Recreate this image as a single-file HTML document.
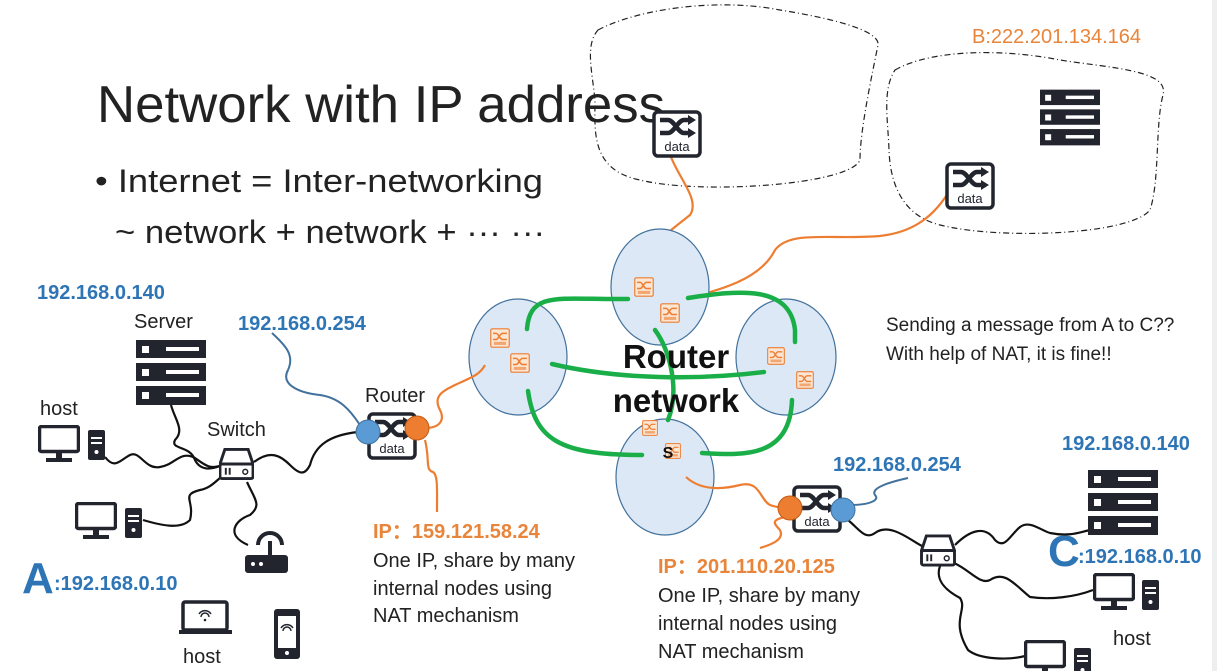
<!DOCTYPE html>
<html><head><meta charset="utf-8"><style>
html,body{margin:0;padding:0;background:#fff;}
svg{display:block;}
text{font-family:"Liberation Sans",sans-serif;}
.b{fill:#2e75b6;font-weight:bold;font-size:20px;}
.o{fill:#e8853a;font-weight:bold;font-size:20px;}
.t{fill:#222;font-size:20px;}
.w{fill:none;stroke:#111;stroke-width:2.2;}
.ow{fill:none;stroke:#ed7d31;stroke-width:2.2;}
.bw{fill:none;stroke:#41719c;stroke-width:2;}
.g{fill:none;stroke:#1aae48;stroke-width:4.5;stroke-linecap:round;}
.el{fill:#dce8f5;stroke:#41719c;stroke-width:1.2;}
</style></head><body>
<svg width="1217" height="671" viewBox="0 0 1217 671" xmlns="http://www.w3.org/2000/svg">
<defs>
<symbol id="srv" viewBox="0 0 70 65">
<rect x="0" y="0" width="70" height="18" fill="#22252e"/><rect x="0" y="23" width="70" height="18" fill="#22252e"/><rect x="0" y="46" width="70" height="19" fill="#22252e"/>
<rect x="6" y="6" width="7" height="7" fill="#fff"/><rect x="30" y="7" width="33" height="4" fill="#fff"/>
<rect x="6" y="29" width="7" height="7" fill="#fff"/><rect x="30" y="30" width="33" height="4" fill="#fff"/>
<rect x="6" y="52" width="7" height="7" fill="#fff"/><rect x="30" y="53" width="33" height="4" fill="#fff"/>
</symbol>
<symbol id="mon" viewBox="0 0 42 37">
<rect x="1.5" y="1.5" width="39" height="25" rx="2" fill="#fff" stroke="#22252e" stroke-width="3.5"/>
<rect x="18" y="27" width="6" height="6" fill="#22252e"/><rect x="8" y="33" width="26" height="4" fill="#22252e"/>
</symbol>
<symbol id="tow" viewBox="0 0 17 30">
<rect x="0" y="0" width="17" height="30" rx="2" fill="#22252e"/><rect x="3" y="7" width="11" height="2" fill="#fff"/><rect x="3" y="12" width="11" height="2" fill="#fff"/><circle cx="8.5" cy="22" r="2" fill="#fff"/>
</symbol>
<symbol id="rt" viewBox="0 0 50 48">
<rect x="2" y="2" width="46" height="44" rx="4" fill="#fff" stroke="#22252e" stroke-width="3.5"/>
<path d="M8 10 H16 C22 10 26 23 32 23 H40 M8 23 H16 C22 23 26 10 32 10 H40" fill="none" stroke="#22252e" stroke-width="4.5"/>
<path d="M36 5 L44 10 L36 15 Z M36 18 L44 23 L36 28 Z" fill="#22252e"/>
<text x="25" y="41" font-size="13" text-anchor="middle" fill="#22252e" font-family="Liberation Mono, monospace">data</text>
</symbol>
<symbol id="ort" viewBox="0 0 26 26">
<rect x="1" y="1" width="24" height="24" rx="2" fill="#fbe5d3" stroke="#ed7d31" stroke-width="1.5"/>
<path d="M4 7 H8 C11 7 13 15 16 15 H22 M4 15 H8 C11 15 13 7 16 7 H22" fill="none" stroke="#ed7d31" stroke-width="2"/>
<rect x="5" y="18" width="16" height="4" fill="#ed7d31" opacity="0.6"/>
</symbol>
<symbol id="sw" viewBox="0 0 36 34">
<path d="M6 2 H30 L35 17 H1 Z" fill="#fff" stroke="#22252e" stroke-width="3"/>
<rect x="1" y="17" width="34" height="15" rx="2" fill="#fff" stroke="#22252e" stroke-width="3"/>
<rect x="6" y="21" width="2" height="7" fill="#22252e"/><rect x="10" y="21" width="2" height="7" fill="#22252e"/><circle cx="27" cy="25" r="2.5" fill="none" stroke="#22252e" stroke-width="1.5"/>
</symbol>
</defs>

<!-- title -->
<text x="97" y="122" font-size="52" fill="#222" textLength="568" lengthAdjust="spacingAndGlyphs">Network with IP address</text>
<text x="95" y="192" font-size="32" fill="#222" textLength="448" lengthAdjust="spacingAndGlyphs">• Internet = Inter-networking</text>
<text x="115" y="243" font-size="32" fill="#222" textLength="430" lengthAdjust="spacingAndGlyphs">~ network + network + ··· ···</text>

<!-- clouds -->
<path d="M598 30 C640 8 720 -2 780 10 C830 18 880 30 878 45 C872 75 860 130 860 160 C850 185 700 195 640 180 C590 170 595 130 595 100 C592 70 585 45 598 30 Z" fill="none" stroke="#222" stroke-width="1.2" stroke-dasharray="6,3,1,3"/>
<path d="M895 70 C930 50 1000 48 1060 60 C1110 68 1170 70 1163 95 C1155 125 1160 180 1150 210 C1130 235 1000 240 940 225 C900 215 890 180 889 150 C888 120 882 90 895 70 Z" fill="none" stroke="#222" stroke-width="1.2" stroke-dasharray="6,3,1,3"/>
<text x="972" y="43" class="o" style="font-weight:normal">B:222.201.134.164</text>
<use href="#srv" x="1040" y="85" width="60" height="65"/>

<!-- orange links to clouds -->
<path class="ow" d="M671 157 C680 180 700 200 690 215 C665 235 655 240 658 260"/>
<path class="ow" d="M680 300 C720 290 760 280 775 250 C790 230 830 240 880 236 C915 232 935 215 950 190"/>
<use href="#rt" x="652" y="110" width="50" height="48"/>
<use href="#rt" x="945" y="162" width="50" height="48"/>

<!-- ellipses -->
<ellipse class="el" cx="660" cy="287" rx="49" ry="58"/>
<ellipse class="el" cx="518" cy="357" rx="49" ry="58"/>
<ellipse class="el" cx="786" cy="357" rx="50" ry="58"/>
<ellipse class="el" cx="665" cy="477" rx="49" ry="58"/>
<use href="#ort" x="634" y="277" width="20" height="20"/>
<use href="#ort" x="660" y="303" width="20" height="20"/>
<use href="#ort" x="490" y="328" width="20" height="20"/>
<use href="#ort" x="510" y="353" width="20" height="20"/>
<use href="#ort" x="767" y="347" width="18" height="18"/>
<use href="#ort" x="796" y="371" width="18" height="18"/>
<use href="#ort" x="642" y="420" width="16" height="16"/>
<use href="#ort" x="665" y="443" width="16" height="16"/>

<!-- green -->
<path class="g" d="M527 329 C530 290 560 300 628 299"/>
<path class="g" d="M688 298 C740 290 790 285 795 330 L795 342"/>
<path class="g" d="M552 364 C620 380 700 380 764 372"/>
<path class="g" d="M655 330 C670 350 680 390 668 420"/>
<path class="g" d="M528 391 C535 440 560 455 642 455"/>
<path class="g" d="M702 453 C740 455 790 460 792 400"/>

<!-- router network text -->
<text x="676" y="368" font-size="33" font-weight="bold" fill="#111" text-anchor="middle">Router</text>
<text x="676" y="412" font-size="33" font-weight="bold" fill="#111" text-anchor="middle">network</text>
<text x="668" y="458" font-size="16" font-weight="bold" fill="#111" text-anchor="middle">S</text>

<!-- left network wires -->
<path class="w" d="M105 457 C115 470 120 460 130 455 C140 450 145 470 160 467 C175 465 180 450 195 458 C205 465 210 470 222 465"/>
<path class="w" d="M171 405 C175 420 185 430 175 440 C170 450 190 445 195 460 C200 470 210 470 220 466"/>
<path class="w" d="M143 520 C160 525 180 530 190 520 C195 500 180 495 200 490 C210 488 215 482 220 478"/>
<path class="w" d="M247 482 C255 500 262 505 250 515 C235 520 225 535 248 545"/>
<path class="w" d="M254 462 C270 450 280 455 290 465 C300 475 305 475 310 465 C315 445 330 435 358 432"/>
<path class="bw" d="M272 333 C285 345 295 355 288 370 C280 385 300 393 320 395 C340 398 350 410 360 425"/>
<path class="ow" d="M425 428 C440 428 445 420 440 410 C432 395 445 390 455 385 C470 378 480 375 485 365"/>
<path class="ow" d="M425 440 C430 460 425 470 433 472 C438 475 437 490 437 512"/>

<use href="#srv" x="136" y="340" width="70" height="65"/>
<use href="#mon" x="38" y="425" width="42" height="37"/>
<use href="#tow" x="88" y="430" width="17" height="30"/>
<use href="#mon" x="75" y="502" width="42" height="37"/>
<use href="#tow" x="125" y="508" width="17" height="30"/>
<use href="#sw" x="219" y="447" width="35" height="34"/>
<!-- wifi router -->
<rect x="245" y="555" width="43" height="18" rx="3" fill="#22252e"/>
<circle cx="253" cy="564" r="2" fill="#fff"/><circle cx="261" cy="564" r="2" fill="#fff"/>
<rect x="268" y="541" width="4" height="15" fill="#22252e"/>
<path d="M258 545 A12 12 0 0 1 282 545" fill="none" stroke="#22252e" stroke-width="4"/>
<!-- laptop -->
<rect x="183" y="602" width="44" height="28" rx="2" fill="#fff" stroke="#22252e" stroke-width="3.5"/>
<rect x="179" y="630" width="53" height="4" fill="#22252e"/>
<path d="M199 614 A7 7 0 0 1 211 614 M201 617 A4 4 0 0 1 209 617" fill="none" stroke="#22252e" stroke-width="1.5"/><circle cx="205" cy="620" r="1.3" fill="#22252e"/>
<!-- phone -->
<rect x="274" y="609" width="26" height="50" rx="3" fill="#22252e"/><rect x="278" y="616" width="18" height="32" fill="#fff"/><circle cx="287" cy="653" r="2" fill="#fff"/>
<path d="M281 628 A7 7 0 0 1 293 628 M283 631 A4 4 0 0 1 291 631" fill="none" stroke="#22252e" stroke-width="1.5"/>

<use href="#rt" x="367" y="412" width="50" height="48"/>
<circle cx="368" cy="432" r="12" fill="#5b9bd5" stroke="#41719c" stroke-width="1"/>
<circle cx="417" cy="428" r="12" fill="#ed7d31" stroke="#c55a11" stroke-width="1"/>

<text x="37" y="299" class="b">192.168.0.140</text>
<text x="134" y="328" class="t">Server</text>
<text x="238" y="330" class="b">192.168.0.254</text>
<text x="40" y="415" class="t">host</text>
<text x="207" y="436" class="t">Switch</text>
<text x="365" y="402" class="t">Router</text>
<text x="22" y="593" font-size="44" fill="#2e75b6" font-weight="bold">A</text>
<text x="54" y="590" class="b">:192.168.0.10</text>
<text x="183" y="663" class="t">host</text>
<text x="373" y="538" class="o">IP：159.121.58.24</text>
<text x="373" y="567" class="t">One IP, share by many</text>
<text x="373" y="595" class="t">internal nodes using</text>
<text x="373" y="622" class="t">NAT mechanism</text>

<!-- right network wires -->
<path class="ow" d="M686 477 C700 490 720 490 740 485 C760 480 760 500 770 505 C778 508 785 508 790 508"/>
<path class="ow" d="M790 515 C775 520 770 520 780 530 C785 540 770 545 760 548"/>
<path class="bw" d="M850 505 C870 505 880 500 875 495 C870 488 890 482 908 478"/>
<path class="w" d="M848 520 C860 530 865 540 875 533 C890 522 910 540 922 546"/>
<path class="w" d="M955 545 C970 530 985 525 995 540 C1005 550 1010 535 1020 527 C1030 520 1040 530 1050 533 C1070 537 1080 532 1090 530"/>
<path class="w" d="M954 563 C970 570 980 585 990 580 C1005 570 1015 585 1030 597 C1050 600 1075 597 1093 590"/>
<path class="w" d="M940 566 C935 580 945 590 960 598 C968 610 950 620 968 650 C980 660 1010 660 1025 656"/>

<use href="#rt" x="792" y="485" width="50" height="48"/>
<circle cx="790" cy="508" r="12" fill="#ed7d31" stroke="#c55a11" stroke-width="1"/>
<circle cx="843" cy="510" r="12" fill="#5b9bd5" stroke="#41719c" stroke-width="1"/>
<use href="#sw" x="920" y="534" width="36" height="33"/>
<use href="#srv" x="1088" y="470" width="70" height="65"/>
<use href="#mon" x="1093" y="573" width="42" height="37"/>
<use href="#tow" x="1142" y="580" width="17" height="30"/>
<use href="#mon" x="1024" y="640" width="42" height="37"/>
<use href="#tow" x="1074" y="648" width="17" height="30"/>

<text x="833" y="471" class="b">192.168.0.254</text>
<text x="1062" y="450" class="b">192.168.0.140</text>
<text x="1048" y="566" font-size="44" fill="#2e75b6" font-weight="bold">C</text>
<text x="1078" y="563" class="b">:192.168.0.10</text>
<text x="1113" y="645" class="t">host</text>
<text x="658" y="573" class="o">IP：201.110.20.125</text>
<text x="658" y="602" class="t">One IP, share by many</text>
<text x="658" y="630" class="t">internal nodes using</text>
<text x="658" y="658" class="t">NAT mechanism</text>

<text x="886" y="331" font-size="19" fill="#222">Sending a message from A to C??</text>
<text x="886" y="360" font-size="19" fill="#222">With help of NAT, it is fine!!</text>
<rect x="1212" y="0" width="5" height="671" fill="#eceef0"/>
</svg>
</body></html>
